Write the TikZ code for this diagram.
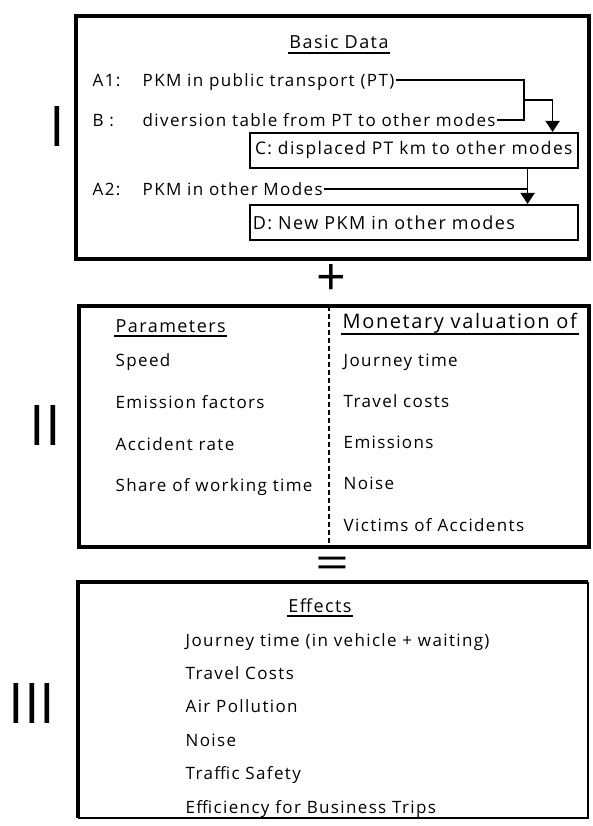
\documentclass[tikz,border=0pt]{standalone}
\usepackage{fontspec}
\setmainfont{Open Sans}[LetterSpace=8]
\newfontfamily\numfont{Open Sans}
\usetikzlibrary{arrows.meta}

\begin{document}
\begin{tikzpicture}[x=1pt,y=-1pt,>={Triangle[width=14pt,length=11pt]},
  frame/.style={line width=4.5pt},
  txt/.style={anchor=base west,inner sep=1.5pt,text height=14pt,text depth=0pt,font=\fontsize{17}{20}\selectfont},
  head/.style={txt,anchor=base,font=\fontsize{18}{20}\selectfont},
  uline/.style={line width=1.8pt},
  link/.style={line width=1.5pt},
  stepbox/.style={draw,line width=1.6pt,minimum width=328pt,minimum height=35pt,inner sep=0pt,anchor=north west,font=\fontsize{17.4}{20}\selectfont},
  numeral/.style={anchor=base,inner sep=0pt,font=\numfont\fontsize{56}{60}\selectfont}]
  \useasboundingbox (0,0) rectangle (592,826);

  \draw[frame] (76,16) rectangle (589,259);
  \node[head] (basic) at (339,49) {Basic Data};
  \draw[uline] ([yshift=-4pt]basic.base west) -- ([yshift=-4pt]basic.base east);
  \node[txt] (a1) at (91,87) {A1:};
  \node[txt] (a1txt) at (141,87) {PKM in public transport (PT)};
  \node[txt] (b) at (91,127) {B :};
  \node[txt] (btxt) at (141,127) {diversion table from PT to other modes};
  \node[stepbox] (c) at (249,132) {C: displaced PT km to other modes};
  \node[txt] (a2) at (91,196) {A2:};
  \node[txt] (a2txt) at (141,196) {PKM in other Modes};
  \node[stepbox,font=\fontsize{18}{20}\selectfont,text width=322pt,align=left] (d) at (249,204) {D: New PKM in other modes};
  \coordinate (m1) at (524,100);
  \coordinate (m2) at ([xshift=-51pt]c.south east);
  \draw[link] (a1txt.east) -| (m1) |- (btxt.east);
  \draw[link,->] (m1) -| ([xshift=-26pt]c.north east);
  \draw[link,->] (m2) -- (m2 |- d.north);
  \draw[link] (a2txt.east) -- (a2txt.east -| m2);
  \node[numeral] (n1) at (57,147) {I};

  \node[font=\numfont\fontsize{52}{60}\selectfont,inner sep=0pt] (plus) at (331,280) {+};

  \draw[frame] (79,306) rectangle (589,547);
  \draw[line width=2pt,dash pattern=on 5pt off 3pt] (329,306) -- (329,547);
  \node[head,anchor=base west] (param) at (114,332) {Parameters};
  \draw[uline] ([yshift=-4pt]param.base west) -- ([yshift=-4pt]param.base east);
  \foreach \t [count=\i] in {Speed,Emission factors,Accident rate,Share of working time}
    \node[txt] (p\i) at (114,{325+41.7*\i}) {\t};
  \node[txt,font=\fontsize{20}{22}\selectfont] (money) at (341,328) {Monetary valuation of};
  \draw[uline] ([yshift=-6pt]money.base west) -- ([yshift=-6pt]money.base east);
  \foreach \t [count=\i] in {Journey time,Travel costs,Emissions,Noise,Victims of Accidents}
    \node[txt] (v\i) at (342,{325+41.2*\i}) {\t};
  \node[numeral] (n2) at (45,445) {II};

  \node[font=\numfont\fontsize{44}{60}\selectfont,inner sep=0pt,xscale=1.35] (eq) at (332,568) {=};

  \draw[line width=1.4pt] (588,582) -- (588,818) -- (78,818);
  \draw[frame] (78,818) -- (78,582) -- (588,582);
  \node[head] (effects) at (320,612) {Effects};
  \draw[uline] ([yshift=-4pt]effects.base west) -- ([yshift=-4pt]effects.base east);
  \foreach \t [count=\i] in {Journey time (in vehicle + waiting),Travel Costs,Air Pollution,Noise,Traffic Safety,Efficiency for Business Trips}
    \node[txt] (e\i) at (184,{612.6+33.4*\i}) {\t};
  \node[numeral] (n3) at (32,723) {III};
\end{tikzpicture}
\end{document}
